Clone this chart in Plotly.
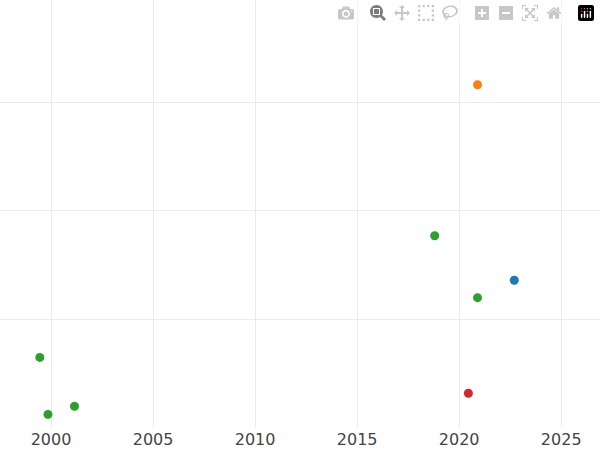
import plotly.graph_objects as go

# points (y has no labels, arbitrary units)
years = [2020.9, 2018.8, 2022.7, 2020.9, 1999.45, 2020.45, 2001.15, 1999.85]
values = [3.16, 1.77, 1.36, 1.20, 0.65, 0.32, 0.20, 0.125]
colors = ["#ff7f0e", "#2ca02c", "#1f77b4", "#2ca02c",
          "#2ca02c", "#d62728", "#2ca02c", "#2ca02c"]
year_ticks = [2000, 2005, 2010, 2015, 2020, 2025]

fig = go.Figure(go.Scatter(
    x=years, y=values, mode="markers",
    marker=dict(color=colors, size=9),
    showlegend=False,
))

fig.update_layout(
    width=600, height=450,
    margin=dict(l=0, r=0, t=0, b=22),
    plot_bgcolor="white", paper_bgcolor="white",
    font=dict(family="DejaVu Sans", size=16, color="#444"),
    xaxis=dict(range=[1997.5, 2026.9], tickvals=year_ticks,
               gridcolor="#ebebeb", zeroline=False, showline=False),
    yaxis=dict(range=[0, 3.94], tickvals=[1, 2, 3], showticklabels=False,
               gridcolor="#ebebeb", zeroline=False, showline=False),
)

# drop the page's default body margin so the figure sits at the corner
fig.write_html("out.html",
               post_script="document.body.style.margin='0';")
